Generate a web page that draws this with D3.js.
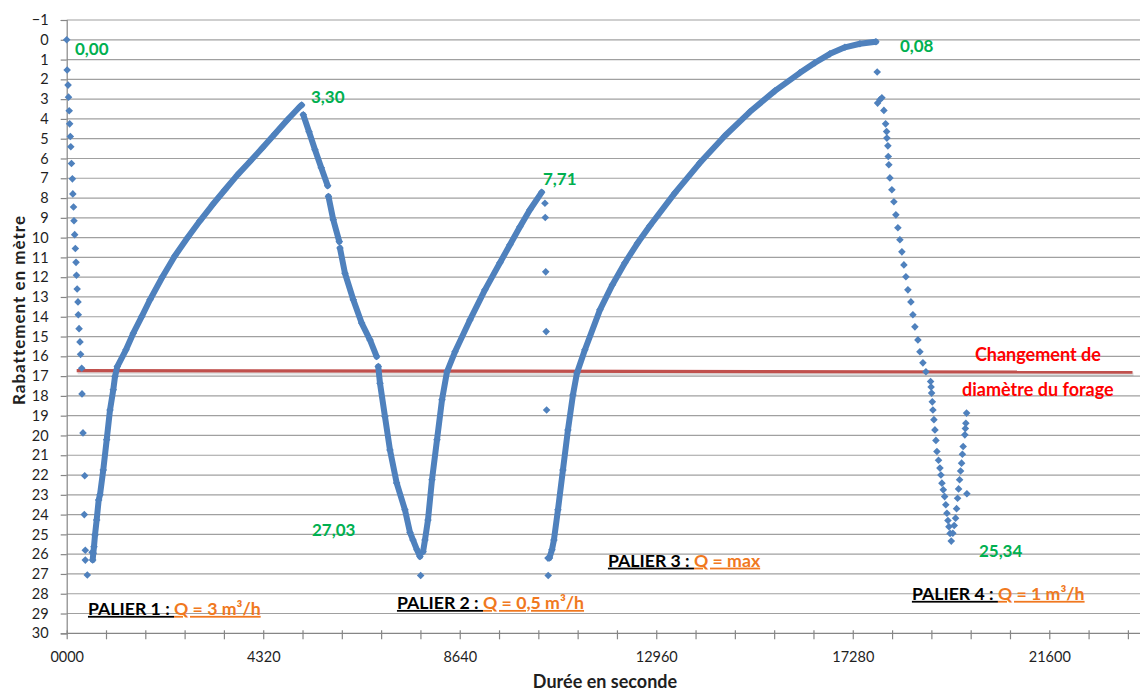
<!DOCTYPE html>
<html>
<head>
<meta charset="utf-8">
<script src="https://cdn.jsdelivr.net/npm/d3@7"></script>
<style>
  body { margin: 0; background: #fff; }
  svg text { font-family: Lato, "Open Sans", sans-serif; }
</style>
</head>
<body>
<svg id="chart" width="1140" height="691"></svg>
<script>
// ------- Data: [time (s), drawdown (m)] -------

// Palier 1: first readings after pump start (loose points)
const palier1Drop = [
  [0, 0.00], [10, 1.53], [30, 2.29], [40, 2.90], [55, 3.59], [65, 4.25],
  [80, 4.89], [90, 5.41], [105, 6.25], [125, 7.03], [135, 7.79], [150, 8.45],
  [160, 9.15], [175, 9.85], [190, 10.55], [205, 11.25], [215, 11.90], [230, 12.60],
  [248, 13.25], [255, 13.90], [272, 14.60], [292, 15.27], [305, 15.90], [330, 16.60],
  [337, 17.90], [358, 19.87], [396, 22.04], [387, 24.00], [409, 25.80], [409, 26.30],
  [453, 27.05], [557, 25.90]
];

// Palier 1: recovery up to 3,30
const palier1Rise = [
  [571, 26.29], [585, 25.95], [600, 25.62], [622, 25.03], [659, 24.27], [703, 23.26],
  [732, 23.00], [804, 21.74], [879, 20.22], [952, 18.71], [1024, 17.69], [1062, 17.02],
  [1112, 16.52], [1303, 15.67], [1464, 14.83], [1649, 13.99], [1831, 13.14], [2106, 11.98],
  [2380, 10.92], [2655, 10.01], [2930, 9.15], [3205, 8.34], [3479, 7.58], [3754, 6.83],
  [4029, 6.15], [4304, 5.46], [4579, 4.75], [4853, 4.04], [5128, 3.37], [5165, 3.30]
];

// Palier 2: drawdown (recorded in four stretches)
const palier2FallA = [[5200, 3.79], [5327, 4.65], [5458, 5.56], [5596, 6.47], [5737, 7.38]];
const palier2FallB = [[5754, 7.92], [5860, 9.10], [5992, 10.20]];
const palier2FallC = [
  [6007, 10.53], [6117, 11.80], [6300, 13.14], [6484, 14.32], [6667, 15.17], [6814, 16.01]
];
const palier2FallD = [
  [6849, 16.52], [6887, 17.36], [6996, 19.04], [7106, 20.73], [7253, 22.40], [7436, 23.76],
  [7546, 24.90], [7612, 25.28], [7700, 25.78], [7766, 26.12]
];
const palier2Low = [[7781, 27.08]];

// Palier 2: recovery up to 7,71
const palier2Rise = [
  [7834, 25.88], [7876, 25.28], [7942, 24.27], [8030, 22.24], [8140, 20.22], [8250, 18.20],
  [8360, 16.78], [8536, 15.77], [8865, 14.16], [9194, 12.64], [9524, 11.27], [9744, 10.36],
  [9964, 9.45], [10183, 8.59], [10441, 7.71]
];

// Palier 3: fast drop (loose points)
const palier3Drop = [
  [10513, 8.26], [10520, 8.98], [10530, 11.73], [10540, 14.75], [10550, 18.71],
  [10580, 26.20], [10585, 27.08]
];

// Palier 3: recovery up to 0,08
const palier3Rise = [
  [10612, 26.19], [10667, 25.78], [10711, 25.28], [10799, 23.76], [10909, 21.74],
  [11019, 19.72], [11129, 17.95], [11217, 16.84], [11392, 15.67], [11722, 13.65],
  [11997, 12.38], [12272, 11.27], [12546, 10.29], [12821, 9.40], [13371, 7.74],
  [13920, 6.22], [14470, 4.85], [15019, 3.64], [15569, 2.58], [16118, 1.67],
  [16448, 1.16], [16778, 0.71], [17108, 0.38], [17437, 0.20], [17789, 0.10]
];

// Palier 4: drawdown down to 25,34
const palier4Fall = [
  [17817, 1.63], [17826, 3.20], [17877, 3.03], [17920, 2.93], [17964, 3.57], [18002, 4.25],
  [18024, 4.64], [18030, 4.97], [18052, 5.36], [18060, 5.90], [18073, 6.32], [18096, 6.98],
  [18140, 7.58], [18184, 8.19], [18228, 8.85], [18272, 9.50], [18316, 10.11], [18360, 10.72],
  [18404, 11.38], [18448, 11.98], [18492, 12.64], [18558, 13.25], [18602, 13.90], [18646, 14.51],
  [18712, 15.17], [18756, 15.77], [18822, 16.33], [18888, 16.78], [18991, 17.27], [19002, 17.55],
  [19013, 17.86], [19028, 18.30], [19042, 18.71], [19064, 19.20], [19086, 19.72], [19108, 20.25],
  [19130, 20.81], [19165, 21.25], [19196, 21.65], [19218, 22.00], [19240, 22.41], [19270, 22.75],
  [19300, 23.09], [19325, 23.50], [19350, 23.93], [19372, 24.30], [19394, 24.61], [19420, 24.95],
  [19445, 25.34]
];

// Palier 4: end of test
const palier4Rise = [
  [19480, 24.94], [19510, 24.55], [19540, 24.18], [19562, 23.70], [19584, 23.17], [19606, 22.70],
  [19628, 22.24], [19650, 21.80], [19672, 21.40], [19690, 20.95], [19707, 20.56], [19744, 19.97],
  [19755, 19.65], [19766, 19.38], [19782, 18.87], [19789, 22.95]
];

// red line: change of borehole diameter
const diameterChange = [[220, 16.72], [23430, 16.80]];

// axis ticks
const xMajorTicks = [0, 4320, 8640, 12960, 17280, 21600];
const xMajorLabels = ["0000", "4320", "8640", "12960", "17280", "21600"];
const xMinorTicks = d3.range(0, 23329, 864);
const yTicks = d3.range(-1, 31);

// runs that were logged densely enough to read as a continuous trace
const joinedRuns = [palier1Rise, palier2FallA, palier2FallB, palier2FallC, palier2FallD,
  palier2Rise, palier3Rise];
const looseRuns = [palier1Drop, palier2Low, palier3Drop, palier4Fall, palier4Rise];

// ------- Layout -------
const width = 1140;
const height = 691;
const blue = "#4f81bd";
const green = "#00b050";
const orange = "#f07820";

const svg = d3.select("#chart");

const x = d3.scaleLinear().domain([0, 23600]).range([66.7, 66.7 + 23600 * 0.04549]);
const y = d3.scaleLinear().domain([-1, 30]).range([20, 633.3]);

// gridlines
svg.append("g")
  .selectAll("line")
  .data(yTicks.filter((d) => d !== 30))
  .join("line")
  .attr("x1", x(0))
  .attr("x2", width)
  .attr("y1", (d) => y(d))
  .attr("y2", (d) => y(d))
  .attr("stroke", "#a0a0a0")
  .attr("stroke-width", 1.2);

// y axis
const yAxisG = svg.append("g")
  .attr("transform", `translate(${x(0)},0)`)
  .call(d3.axisLeft(y).tickValues(yTicks).tickSize(6).tickPadding(12).tickFormat(d3.format("d")));
yAxisG.select(".domain").attr("stroke", "#868686").attr("stroke-width", 1.2);
yAxisG.selectAll(".tick line").attr("stroke", "#868686").attr("stroke-width", 1.2);
yAxisG.selectAll(".tick text")
  .attr("font-size", 14.5)
  .attr("fill", "#1f1f1f")
  .style("font-family", "Lato, sans-serif");

// x axis
const xAxisG = svg.append("g")
  .attr("transform", `translate(0,${y(30)})`)
  .call(d3.axisBottom(x).tickValues(xMinorTicks).tickSize(6).tickPadding(12)
    .tickFormat((d) => {
      const i = xMajorTicks.indexOf(d);
      return i >= 0 ? xMajorLabels[i] : "";
    }));
xAxisG.select(".domain").attr("d", `M${x(0)},0H${width}`).attr("stroke", "#868686").attr("stroke-width", 1.2);
xAxisG.selectAll(".tick line").attr("y1", -3).attr("y2", 6).attr("stroke", "#868686").attr("stroke-width", 1.2);
xAxisG.selectAll(".tick text")
  .attr("font-size", 14.5)
  .attr("fill", "#1f1f1f")
  .style("font-family", "Lato, sans-serif");

// red diameter-change line
svg.append("path")
  .datum(diameterChange)
  .attr("d", d3.line().x((d) => x(d[0]) + 1).y((d) => y(d[1]) + 2))
  .attr("stroke", "#000")
  .attr("stroke-opacity", 0.12)
  .attr("stroke-width", 3.5);
svg.append("path")
  .datum(diameterChange)
  .attr("d", d3.line().x((d) => x(d[0])).y((d) => y(d[1])))
  .attr("stroke", "#c0504d")
  .attr("stroke-width", 3.2);

// data traces
const line = d3.line().x((d) => x(d[0])).y((d) => y(d[1]));
svg.append("g")
  .selectAll("path")
  .data(joinedRuns)
  .join("path")
  .attr("d", line)
  .attr("fill", "none")
  .attr("stroke", blue)
  .attr("stroke-width", 6)
  .attr("stroke-linejoin", "round")
  .attr("stroke-linecap", "round");

const diamond = "M0,-3.8L3.8,0L0,3.8L-3.8,0Z";
svg.append("g")
  .selectAll("path")
  .data(joinedRuns.concat(looseRuns).flat())
  .join("path")
  .attr("d", diamond)
  .attr("transform", (d) => `translate(${x(d[0])},${y(d[1])})`)
  .attr("fill", blue);

// value labels
const valueLabels = [
  { text: "0,00", t: 182, s: 0.76 },
  { text: "3,30", t: 5370, s: 3.19 },
  { text: "7,71", t: 10470, s: 7.33 },
  { text: "0,08", t: 18316, s: 0.61 },
  { text: "27,03", t: 5392, s: 25.08 },
  { text: "25,34", t: 20053, s: 26.14 }
];
svg.append("g")
  .selectAll("text")
  .data(valueLabels)
  .join("text")
  .attr("x", (d) => x(d.t))
  .attr("y", (d) => y(d.s))
  .attr("font-size", 17)
  .attr("font-weight", "bold")
  .attr("fill", green)
  .text((d) => d.text);

// palier labels
const palierLabels = [
  { head: "PALIER 1 : ", rate: "Q = 3 m³/h", t: 468, s: 29.07 },
  { head: "PALIER 2 : ", rate: "Q = 0,5 m³/h", t: 7260, s: 28.77 },
  { head: "PALIER 3 : ", rate: "Q = max", t: 11898, s: 26.63 },
  { head: "PALIER 4 : ", rate: "Q = 1 m³/h", t: 18580, s: 28.31 }
];
const pl = svg.append("g")
  .selectAll("text")
  .data(palierLabels)
  .join("text")
  .attr("x", (d) => x(d.t))
  .attr("y", (d) => y(d.s))
  .attr("font-size", 17.7)
  .attr("font-weight", "bold")
  .style("white-space", "pre");
pl.append("tspan")
  .attr("fill", "#000")
  .attr("text-decoration", "underline")
  .text((d) => d.head);
pl.append("tspan")
  .attr("fill", orange)
  .attr("text-decoration", "underline")
  .text((d) => d.rate);

// red annotation
svg.append("text")
  .attr("x", x(21349))
  .attr("y", y(16.26))
  .attr("text-anchor", "middle")
  .attr("font-size", 18)
  .attr("font-weight", "bold")
  .attr("fill", "#ff0000")
  .text("Changement de");
svg.append("text")
  .attr("x", x(21349))
  .attr("y", y(18.0))
  .attr("text-anchor", "middle")
  .attr("font-size", 18)
  .attr("font-weight", "bold")
  .attr("fill", "#ff0000")
  .text("diamètre du forage");

// axis titles
svg.append("text")
  .attr("x", 605)
  .attr("y", 688)
  .attr("text-anchor", "middle")
  .attr("font-size", 18)
  .attr("font-weight", "bold")
  .attr("fill", "#1f1f1f")
  .text("Durée en seconde");

svg.append("text")
  .attr("transform", "translate(25,310) rotate(-90)")
  .attr("text-anchor", "middle")
  .attr("font-size", 17)
  .attr("font-weight", "bold")
  .attr("letter-spacing", 1)
  .attr("fill", "#1f1f1f")
  .text("Rabattement en mètre");
</script>
</body>
</html>
